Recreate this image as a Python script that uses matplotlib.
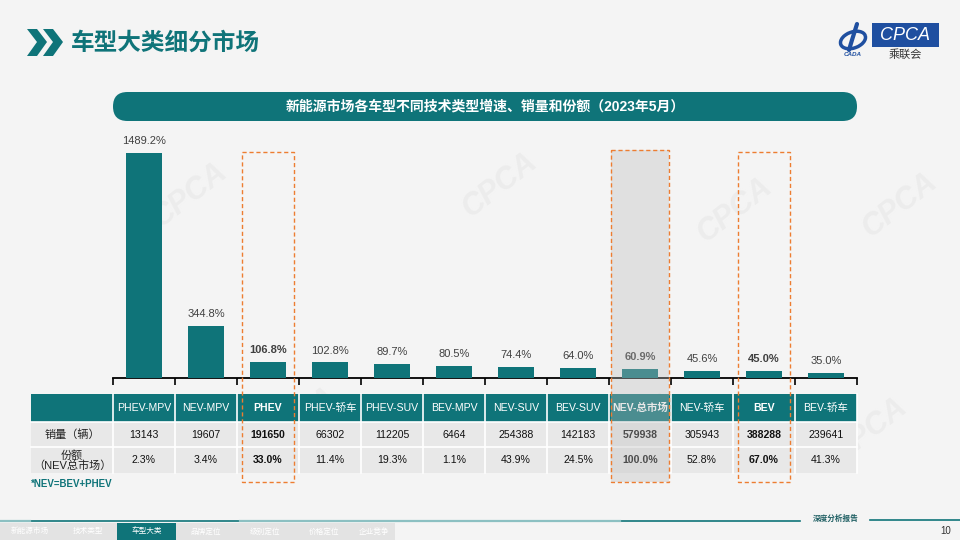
import matplotlib
matplotlib.use("Agg")
import matplotlib.pyplot as plt
from matplotlib.patches import Rectangle, FancyBboxPatch, Polygon, Arc

plt.rcParams['font.family'] = ['Liberation Sans', 'Noto Sans CJK SC', 'DejaVu Sans']

# ---------------- data ----------------
categories = ["PHEV-MPV", "NEV-MPV", "PHEV", "PHEV-轿车", "PHEV-SUV", "BEV-MPV",
              "NEV-SUV", "BEV-SUV", "NEV-总市场", "NEV-轿车", "BEV", "BEV-轿车"]
growth = [1489.2, 344.8, 106.8, 102.8, 89.7, 80.5, 74.4, 64.0, 60.9, 45.6, 45.0, 35.0]
sales = [13143, 19607, 191650, 66302, 112205, 6464, 254388, 142183, 579938, 305943, 388288, 239641]
share = [2.3, 3.4, 33.0, 11.4, 19.3, 1.1, 43.9, 24.5, 100.0, 52.8, 67.0, 41.3]
bold_cats = ["PHEV", "NEV-总市场", "BEV"]
row_labels = ["销量（辆）", "份额\n（NEV总市场）"]
title = "车型大类细分市场"
subtitle = "新能源市场各车型不同技术类型增速、销量和份额（2023年5月）"
footnote = "*NEV=BEV+PHEV"
tabs = ["新能源市场", "技术类型", "车型大类", "品牌定位", "级别定位", "价格定位", "企业竞争"]
active_tab = "车型大类"
page_no = "10"

TEAL = "#0f7479"
ORANGE = "#ed7d31"
W, H = 960, 540

fig = plt.figure(figsize=(9.6, 5.4), dpi=100)
fig.patch.set_facecolor("#f4f4f4")

# background axes in pixel coords
bg = fig.add_axes([0, 0, 1, 1])
bg.set_xlim(0, W)
bg.set_ylim(H, 0)
bg.axis("off")
bg.set_zorder(0)

# watermarks
for (wx, wy) in [(190, 195), (500, 185), (735, 210), (900, 205), (300, 420), (640, 425), (870, 430)]:
    bg.text(wx, wy, "CPCA", fontsize=22, color="#ececec", rotation=38, ha="center", va="center",
            fontstyle="italic", fontweight="bold", zorder=0)

# title chevrons
for dx in (0, 16):
    bg.add_patch(Polygon([(27 + dx, 29), (37 + dx, 29), (47 + dx, 42), (37 + dx, 56), (27 + dx, 56), (37 + dx, 42)],
                         closed=True, facecolor=TEAL, edgecolor="none"))
bg.text(71, 43, title, fontsize=17, fontweight="bold", color=TEAL, ha="left", va="center")

# logo
BLUE = "#1f4fa0"
bg.add_patch(Rectangle((872, 23), 67, 24, facecolor=BLUE, edgecolor="none"))
bg.text(905, 35, "CPCA", fontsize=13, color="white", fontstyle="italic", ha="center", va="center")
bg.text(905, 55, "乘联会", fontsize=8, color="#333333", ha="center", va="center")
bg.add_patch(Arc((853, 40), 26, 16, angle=-20, theta1=0, theta2=360, color=BLUE, lw=2.5))
bg.plot([857, 852, 849], [24, 40, 50], color=BLUE, lw=3, solid_capstyle="round")
bg.text(853, 55, "CADA", fontsize=4.5, color=BLUE, fontstyle="italic", fontweight="bold", ha="center", va="center")

# subtitle banner
bg.add_patch(FancyBboxPatch((113, 92), 744, 29, boxstyle="round,pad=0,rounding_size=14.5",
                            facecolor=TEAL, edgecolor="none"))
bg.text(485, 107, subtitle, fontsize=10, fontweight="bold", color="white", ha="center", va="center")

# ---------------- bar chart ----------------
ax_left, ax_right, ax_base, ax_top = 113, 857, 378, 140
ax = fig.add_axes([ax_left / W, 1 - ax_base / H, (ax_right - ax_left) / W, (ax_base - ax_top) / H])
ax.set_zorder(2)
ax.patch.set_alpha(0)
x = list(range(len(categories)))
ax.bar(x, growth, width=0.57, color=TEAL, zorder=3)
ax.set_xlim(-0.5, len(categories) - 0.5)
ax.set_ylim(0, 1489.2 * (ax_base - ax_top) / (ax_base - 152.7))
for i, v in enumerate(growth):
    b = categories[i] in bold_cats
    ax.annotate(f"{v:.1f}%", (i, v), xytext=(0, 5), textcoords="offset points",
                ha="center", va="bottom", fontsize=8, color="#404040",
                fontweight="bold" if b else "normal")
for s in ("top", "right", "left"):
    ax.spines[s].set_visible(False)
ax.spines["bottom"].set_linewidth(1.3)
ax.set_yticks([])
ax.set_xticks([i - 0.5 for i in range(len(categories) + 1)])
ax.set_xticklabels([])
ax.tick_params(axis="x", direction="out", length=5, width=1.2)

# ---------------- table ----------------
tx0, c0w, cw = 31, 82, 62
ry = [394, 422, 447, 473]
tw = c0w + cw * len(categories)
FS = 7.6
bg.add_patch(Rectangle((tx0, ry[0]), tw, ry[1] - ry[0], facecolor=TEAL, edgecolor="none", zorder=1))
bg.add_patch(Rectangle((tx0, ry[1]), tw, ry[3] - ry[1], facecolor="#e8e8e8", edgecolor="none", zorder=1))
for k in range(len(categories) + 1):
    xx = tx0 + c0w + cw * k
    bg.plot([xx, xx], [ry[0], ry[3]], color="white", lw=1.2, zorder=2)
for yy in ry[1:3]:
    bg.plot([tx0, tx0 + tw], [yy, yy], color="white", lw=1.2, zorder=2)

bg.text(tx0 + c0w / 2, (ry[1] + ry[2]) / 2, row_labels[0], fontsize=8, color="#222222", ha="center", va="center", zorder=3)
bg.text(tx0 + c0w / 2, (ry[2] + ry[3]) / 2 + 0.5, row_labels[1], fontsize=8, color="#222222", ha="center", va="center",
        linespacing=1.0, zorder=3)
for i, c in enumerate(categories):
    cx = tx0 + c0w + cw * (i + 0.5)
    b = "bold" if c in bold_cats else "normal"
    bg.text(cx, (ry[0] + ry[1]) / 2, c, fontsize=FS, color="white", fontweight=b, ha="center", va="center", zorder=3)
    bg.text(cx, (ry[1] + ry[2]) / 2, f"{sales[i]}", fontsize=FS, color="#111111", fontweight=b, ha="center", va="center", zorder=3)
    bg.text(cx, (ry[2] + ry[3]) / 2, f"{share[i]:.1f}%", fontsize=FS, color="#111111", fontweight=b, ha="center", va="center", zorder=3)

bg.text(tx0, 484, footnote, fontsize=7, color=TEAL, fontweight="bold", ha="left", va="center")

# highlight boxes
top_over = fig.add_axes([0, 0, 1, 1])
top_over.set_xlim(0, W)
top_over.set_ylim(H, 0)
top_over.axis("off")
top_over.set_zorder(5)
top_over.patch.set_alpha(0)
for c in bold_cats:
    i = categories.index(c)
    bx = tx0 + c0w + cw * i
    if c == "NEV-总市场":
        top_over.add_patch(Rectangle((bx + 2, 150), cw - 4, 482 - 150, facecolor="#bdbdbd", alpha=0.35,
                                     edgecolor="none"))
        top_over.add_patch(Rectangle((bx + 2, 150), cw - 4, 482 - 150, facecolor="none",
                                     edgecolor=ORANGE, lw=1, ls=(0, (3, 2))))
    else:
        top_over.add_patch(Rectangle((bx + 5, 152), cw - 10, 482 - 152, facecolor="none",
                                     edgecolor=ORANGE, lw=1, ls=(0, (3, 2))))

# ---------------- footer ----------------
bg.plot([0, 800], [521, 521], color=TEAL, lw=1.2)
bg.plot([240, 620], [520.5, 520.5], color="#8cc0c2", lw=1.6)
bg.plot([0, 30], [520.5, 520.5], color="#8cc0c2", lw=1.6)
bg.plot([870, 960], [520, 520], color=TEAL, lw=1.2)
bg.text(836, 519, "深度分析报告", fontsize=5.5, color="#1f5f63", ha="center", va="center", fontweight="bold")
bg.text(946, 531, page_no, fontsize=7, color="#333333", ha="center", va="center")
tab_x = [0, 59, 117, 176, 235, 294, 353, 395]
bg.add_patch(Rectangle((0, 523), 395, 17, facecolor="#e3e3e3", edgecolor="none"))
for k, t in enumerate(tabs):
    x0, x1 = tab_x[k], tab_x[k + 1]
    if t == active_tab:
        bg.add_patch(Rectangle((x0, 523), x1 - x0, 17, facecolor=TEAL, edgecolor="none"))
    bg.text((x0 + x1) / 2, 531.5, t, fontsize=5.5, color="white", ha="center", va="center")

fig.savefig("out.png", dpi=100, facecolor=fig.get_facecolor())
